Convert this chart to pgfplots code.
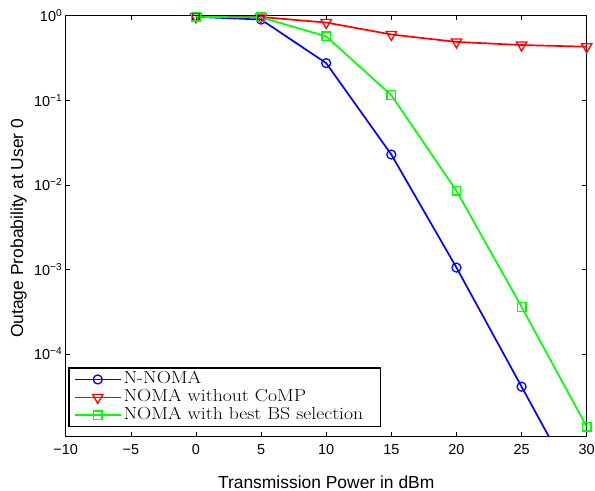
\documentclass[border=0pt]{standalone}
\usepackage{fontspec}
\setsansfont{Liberation Sans}
\newfontfamily\legfont[FakeStretch=1.13]{Latin Modern Roman}
\usepackage{pgfplots}
\pgfplotsset{compat=1.18}
\begin{document}
\begin{tikzpicture}
\begin{axis}[
  scale only axis,
  width=521bp, height=421bp,
  ymode=log, log basis y=10,
  xmin=-10, xmax=30,
  ymin=1.05e-5, ymax=1,
  xtick={-10,-5,0,5,10,15,20,25,30},
  xticklabels={−10,−5,0,5,10,15,20,25,30},
  ytick={1e-4,1e-3,1e-2,1e-1,1},
  yticklabel={\pgfmathtruncatemacro{\e}{round(\tick)}\pgfmathtruncatemacro{\a}{abs(\e)}10\textsuperscript{\ifnum\e<0 −\fi\a}},
  /pgf/number format/assume math mode=true,
  tick align=inside,
  tick style={black, line width=0.6pt},
  axis line style={line width=0.8pt},
  ticklabel style={font=\sffamily\fontsize{14.5}{16}\selectfont},
  xticklabel style={yshift=-4bp},
  label style={font=\sffamily\fontsize{17.5}{19}\selectfont},
  xlabel={Transmission Power in dBm},
  ylabel={Outage Probability at User 0},
  xlabel style={at={(axis description cs:0.5,-0.1235)}, anchor=base},
  ylabel style={at={(axis description cs:-0.0902,0.495)}, anchor=center},
  legend style={at={(0.005,0.022)}, anchor=south west, draw=black, line width=1.3pt,
    font=\legfont\fontsize{17.5}{18}\selectfont, row sep=1pt, inner xsep=5pt, inner ysep=3pt,
    nodes={inner ysep=0pt, text height=12.5pt, text depth=4.5pt}},
  legend cell align=left,
  legend image code/.code={\draw[mark repeat=2,mark phase=2,#1,line width=1.7pt] plot coordinates {(0cm,0cm) (0.81cm,0cm) (1.62cm,0cm)};},
]
\addplot[blue, line width=1.7pt, mark=o, mark size=4.5pt, mark options={solid, line width=1.3pt, fill=none}] coordinates {(0,0.97) (5,0.90) (10,0.275) (15,0.0228) (20,0.00105) (25,4.1e-5) (30,1.6e-6)};
\addplot[red, line width=1.7pt, mark=triangle, mark size=6pt, mark options={solid, rotate=180, line width=1.3pt, fill=none}] coordinates {(0,0.97) (5,0.965) (10,0.83) (15,0.60) (20,0.49) (25,0.45) (30,0.43)};
\addplot[green, line width=1.7pt, mark=square, mark size=4.3pt, mark options={solid, line width=1.3pt, fill=none}] coordinates {(0,0.97) (5,0.955) (10,0.57) (15,0.115) (20,0.0085) (25,3.6e-4) (30,1.38e-5)};
\legend{N-NOMA, NOMA without CoMP, NOMA with best BS selection\hspace*{10bp}}
\coordinate (BL) at (rel axis cs:0,0);
\coordinate (TR) at (rel axis cs:1,1);
\end{axis}
\pgfresetboundingbox
\path ([shift={(-65.7bp,-54.3bp)}]BL) rectangle ([shift={(8.3bp,15.7bp)}]TR);
\end{tikzpicture}
\end{document}
